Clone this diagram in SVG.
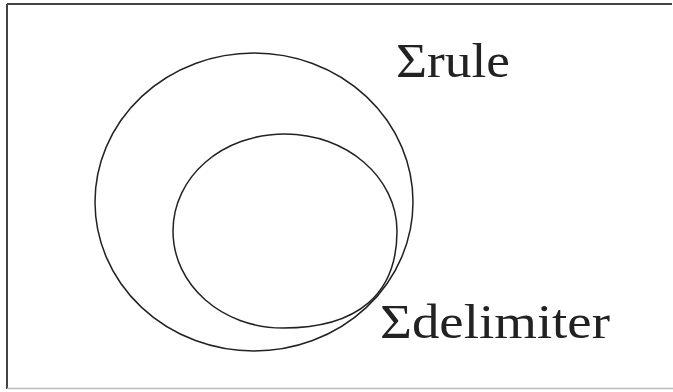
<svg xmlns="http://www.w3.org/2000/svg" width="673" height="392" viewBox="0 0 673 392">
<style>
.set{fill:none;stroke:#222;stroke-width:1.5}
</style>
<rect width="673" height="392" fill="#fff"/>
<g id="frame">
<line x1="7" y1="4" x2="672" y2="4" stroke="#444" stroke-width="2"/>
<line x1="7" y1="4" x2="7" y2="389" stroke="#444" stroke-width="2"/>
<line x1="7" y1="388.5" x2="673" y2="388.5" stroke="#bbb" stroke-width="1.5"/>
</g>
<g id="rule">
<ellipse class="set" cx="254" cy="202" rx="159" ry="149"/>
<text font-family="Liberation Serif, serif" font-size="48" fill="#222" x="396" y="77" textLength="114" lengthAdjust="spacingAndGlyphs">Σrule</text>
</g>
<g id="delimiter">
<path class="set" d="M285,134 C346,134 397,177 397,231 C397,294 358,328 283,328 C222,328 173,285 173,231 C173,177 222,134 285,134 Z"/>
<text font-family="Liberation Serif, serif" font-size="48" fill="#222" x="380" y="338" textLength="230" lengthAdjust="spacingAndGlyphs">Σdelimiter</text>
</g>
<g id="connectors"/>
</svg>
